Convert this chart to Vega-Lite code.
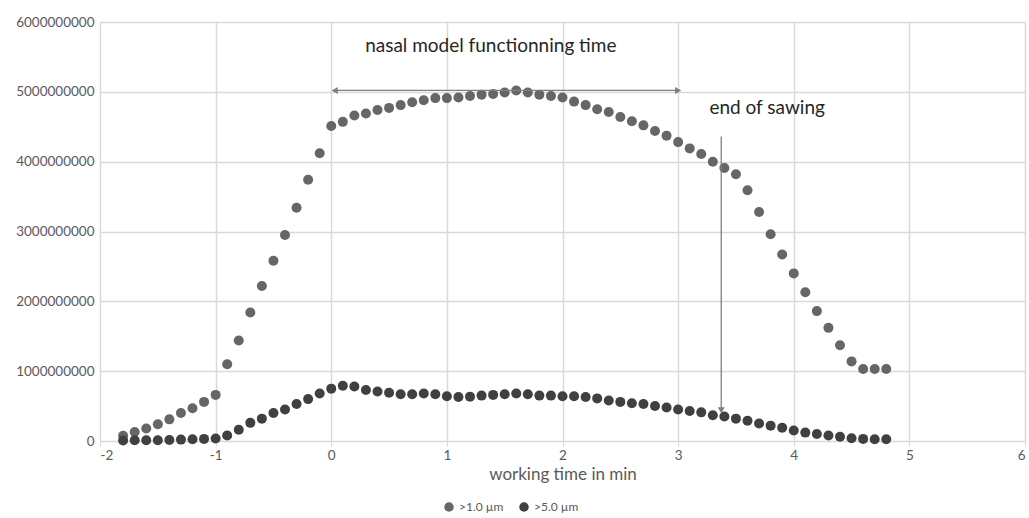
{
  "$schema": "https://vega.github.io/schema/vega-lite/v6.json",
  "autosize": "none",
  "width": 925,
  "height": 419,
  "padding": {"left": 100, "top": 22, "right": 4, "bottom": 77},
  "background": "white",
  "config": {
    "font": "Lato",
    "view": {"stroke": null},
    "axis": {"labelFont": "Lato", "titleFont": "Lato", "labelColor": "#595959", "titleColor": "#595959", "gridColor": "#d9d9d9", "gridWidth": 1.5, "domain": false, "tickColor": "#d9d9d9", "tickSize": 5}
  },
  "datasets": {
    "points": [
      {"x": -1.8, "value": 76000000, "series": ">1.0 µm"},
      {"x": -1.7, "value": 130000000, "series": ">1.0 µm"},
      {"x": -1.6, "value": 180000000, "series": ">1.0 µm"},
      {"x": -1.5, "value": 240000000, "series": ">1.0 µm"},
      {"x": -1.4, "value": 310000000, "series": ">1.0 µm"},
      {"x": -1.3, "value": 400000000, "series": ">1.0 µm"},
      {"x": -1.2, "value": 470000000, "series": ">1.0 µm"},
      {"x": -1.1, "value": 560000000, "series": ">1.0 µm"},
      {"x": -1.0, "value": 660000000, "series": ">1.0 µm"},
      {"x": -0.9, "value": 1100000000, "series": ">1.0 µm"},
      {"x": -0.8, "value": 1440000000, "series": ">1.0 µm"},
      {"x": -0.7, "value": 1840000000, "series": ">1.0 µm"},
      {"x": -0.6, "value": 2220000000, "series": ">1.0 µm"},
      {"x": -0.5, "value": 2580000000, "series": ">1.0 µm"},
      {"x": -0.4, "value": 2950000000, "series": ">1.0 µm"},
      {"x": -0.3, "value": 3340000000, "series": ">1.0 µm"},
      {"x": -0.2, "value": 3740000000, "series": ">1.0 µm"},
      {"x": -0.1, "value": 4120000000, "series": ">1.0 µm"},
      {"x": 0.0, "value": 4510000000, "series": ">1.0 µm"},
      {"x": 0.1, "value": 4570000000, "series": ">1.0 µm"},
      {"x": 0.2, "value": 4660000000, "series": ">1.0 µm"},
      {"x": 0.3, "value": 4690000000, "series": ">1.0 µm"},
      {"x": 0.4, "value": 4740000000, "series": ">1.0 µm"},
      {"x": 0.5, "value": 4770000000, "series": ">1.0 µm"},
      {"x": 0.6, "value": 4810000000, "series": ">1.0 µm"},
      {"x": 0.7, "value": 4850000000, "series": ">1.0 µm"},
      {"x": 0.8, "value": 4880000000, "series": ">1.0 µm"},
      {"x": 0.9, "value": 4910000000, "series": ">1.0 µm"},
      {"x": 1.0, "value": 4910000000, "series": ">1.0 µm"},
      {"x": 1.1, "value": 4920000000, "series": ">1.0 µm"},
      {"x": 1.2, "value": 4940000000, "series": ">1.0 µm"},
      {"x": 1.3, "value": 4960000000, "series": ">1.0 µm"},
      {"x": 1.4, "value": 4970000000, "series": ">1.0 µm"},
      {"x": 1.5, "value": 4990000000, "series": ">1.0 µm"},
      {"x": 1.6, "value": 5020000000, "series": ">1.0 µm"},
      {"x": 1.7, "value": 4990000000, "series": ">1.0 µm"},
      {"x": 1.8, "value": 4960000000, "series": ">1.0 µm"},
      {"x": 1.9, "value": 4940000000, "series": ">1.0 µm"},
      {"x": 2.0, "value": 4920000000, "series": ">1.0 µm"},
      {"x": 2.1, "value": 4860000000, "series": ">1.0 µm"},
      {"x": 2.2, "value": 4810000000, "series": ">1.0 µm"},
      {"x": 2.3, "value": 4750000000, "series": ">1.0 µm"},
      {"x": 2.4, "value": 4710000000, "series": ">1.0 µm"},
      {"x": 2.5, "value": 4640000000, "series": ">1.0 µm"},
      {"x": 2.6, "value": 4580000000, "series": ">1.0 µm"},
      {"x": 2.7, "value": 4520000000, "series": ">1.0 µm"},
      {"x": 2.8, "value": 4440000000, "series": ">1.0 µm"},
      {"x": 2.9, "value": 4370000000, "series": ">1.0 µm"},
      {"x": 3.0, "value": 4280000000, "series": ">1.0 µm"},
      {"x": 3.1, "value": 4190000000, "series": ">1.0 µm"},
      {"x": 3.2, "value": 4110000000, "series": ">1.0 µm"},
      {"x": 3.3, "value": 4000000000, "series": ">1.0 µm"},
      {"x": 3.4, "value": 3910000000, "series": ">1.0 µm"},
      {"x": 3.5, "value": 3820000000, "series": ">1.0 µm"},
      {"x": 3.6, "value": 3590000000, "series": ">1.0 µm"},
      {"x": 3.7, "value": 3280000000, "series": ">1.0 µm"},
      {"x": 3.8, "value": 2960000000, "series": ">1.0 µm"},
      {"x": 3.9, "value": 2670000000, "series": ">1.0 µm"},
      {"x": 4.0, "value": 2400000000, "series": ">1.0 µm"},
      {"x": 4.1, "value": 2130000000, "series": ">1.0 µm"},
      {"x": 4.2, "value": 1860000000, "series": ">1.0 µm"},
      {"x": 4.3, "value": 1620000000, "series": ">1.0 µm"},
      {"x": 4.4, "value": 1370000000, "series": ">1.0 µm"},
      {"x": 4.5, "value": 1140000000, "series": ">1.0 µm"},
      {"x": 4.6, "value": 1030000000, "series": ">1.0 µm"},
      {"x": 4.7, "value": 1030000000, "series": ">1.0 µm"},
      {"x": 4.8, "value": 1030000000, "series": ">1.0 µm"},
      {"x": -1.8, "value": 8000000, "series": ">5.0 µm"},
      {"x": -1.7, "value": 10000000, "series": ">5.0 µm"},
      {"x": -1.6, "value": 10000000, "series": ">5.0 µm"},
      {"x": -1.5, "value": 10000000, "series": ">5.0 µm"},
      {"x": -1.4, "value": 15000000, "series": ">5.0 µm"},
      {"x": -1.3, "value": 20000000, "series": ">5.0 µm"},
      {"x": -1.2, "value": 25000000, "series": ">5.0 µm"},
      {"x": -1.1, "value": 30000000, "series": ">5.0 µm"},
      {"x": -1.0, "value": 35000000, "series": ">5.0 µm"},
      {"x": -0.9, "value": 80000000, "series": ">5.0 µm"},
      {"x": -0.8, "value": 160000000, "series": ">5.0 µm"},
      {"x": -0.7, "value": 260000000, "series": ">5.0 µm"},
      {"x": -0.6, "value": 320000000, "series": ">5.0 µm"},
      {"x": -0.5, "value": 400000000, "series": ">5.0 µm"},
      {"x": -0.4, "value": 450000000, "series": ">5.0 µm"},
      {"x": -0.3, "value": 530000000, "series": ">5.0 µm"},
      {"x": -0.2, "value": 600000000, "series": ">5.0 µm"},
      {"x": -0.1, "value": 680000000, "series": ">5.0 µm"},
      {"x": 0.0, "value": 750000000, "series": ">5.0 µm"},
      {"x": 0.1, "value": 790000000, "series": ">5.0 µm"},
      {"x": 0.2, "value": 780000000, "series": ">5.0 µm"},
      {"x": 0.3, "value": 730000000, "series": ">5.0 µm"},
      {"x": 0.4, "value": 710000000, "series": ">5.0 µm"},
      {"x": 0.5, "value": 690000000, "series": ">5.0 µm"},
      {"x": 0.6, "value": 670000000, "series": ">5.0 µm"},
      {"x": 0.7, "value": 670000000, "series": ">5.0 µm"},
      {"x": 0.8, "value": 680000000, "series": ">5.0 µm"},
      {"x": 0.9, "value": 670000000, "series": ">5.0 µm"},
      {"x": 1.0, "value": 640000000, "series": ">5.0 µm"},
      {"x": 1.1, "value": 630000000, "series": ">5.0 µm"},
      {"x": 1.2, "value": 635000000, "series": ">5.0 µm"},
      {"x": 1.3, "value": 650000000, "series": ">5.0 µm"},
      {"x": 1.4, "value": 660000000, "series": ">5.0 µm"},
      {"x": 1.5, "value": 670000000, "series": ">5.0 µm"},
      {"x": 1.6, "value": 680000000, "series": ">5.0 µm"},
      {"x": 1.7, "value": 670000000, "series": ">5.0 µm"},
      {"x": 1.8, "value": 650000000, "series": ">5.0 µm"},
      {"x": 1.9, "value": 650000000, "series": ">5.0 µm"},
      {"x": 2.0, "value": 640000000, "series": ">5.0 µm"},
      {"x": 2.1, "value": 640000000, "series": ">5.0 µm"},
      {"x": 2.2, "value": 630000000, "series": ">5.0 µm"},
      {"x": 2.3, "value": 610000000, "series": ">5.0 µm"},
      {"x": 2.4, "value": 580000000, "series": ">5.0 µm"},
      {"x": 2.5, "value": 560000000, "series": ">5.0 µm"},
      {"x": 2.6, "value": 540000000, "series": ">5.0 µm"},
      {"x": 2.7, "value": 530000000, "series": ">5.0 µm"},
      {"x": 2.8, "value": 500000000, "series": ">5.0 µm"},
      {"x": 2.9, "value": 480000000, "series": ">5.0 µm"},
      {"x": 3.0, "value": 450000000, "series": ">5.0 µm"},
      {"x": 3.1, "value": 430000000, "series": ">5.0 µm"},
      {"x": 3.2, "value": 410000000, "series": ">5.0 µm"},
      {"x": 3.3, "value": 370000000, "series": ">5.0 µm"},
      {"x": 3.4, "value": 350000000, "series": ">5.0 µm"},
      {"x": 3.5, "value": 320000000, "series": ">5.0 µm"},
      {"x": 3.6, "value": 290000000, "series": ">5.0 µm"},
      {"x": 3.7, "value": 250000000, "series": ">5.0 µm"},
      {"x": 3.8, "value": 220000000, "series": ">5.0 µm"},
      {"x": 3.9, "value": 190000000, "series": ">5.0 µm"},
      {"x": 4.0, "value": 150000000, "series": ">5.0 µm"},
      {"x": 4.1, "value": 120000000, "series": ">5.0 µm"},
      {"x": 4.2, "value": 100000000, "series": ">5.0 µm"},
      {"x": 4.3, "value": 80000000, "series": ">5.0 µm"},
      {"x": 4.4, "value": 60000000, "series": ">5.0 µm"},
      {"x": 4.5, "value": 40000000, "series": ">5.0 µm"},
      {"x": 4.6, "value": 30000000, "series": ">5.0 µm"},
      {"x": 4.7, "value": 25000000, "series": ">5.0 µm"},
      {"x": 4.8, "value": 25000000, "series": ">5.0 µm"}
    ],
    "hspan": [{"x": 0.03, "x2": 3.0, "y": 5020000000}],
    "vspan": [{"x": 3.373, "y": 4360000000, "y2": 440000000}],
    "labels": [
      {"label": "nasal model functionning time", "x": 1.38, "y": 5660000000},
      {"label": "end of sawing", "x": 3.77, "y": 4770000000}
    ]
  },
  "layer": [
    {
      "data": {"name": "points"},
      "mark": {"type": "point", "filled": true, "opacity": 1, "size": 100},
      "encoding": {
        "x": {"field": "x", "type": "quantitative", "scale": {"domain": [-2, 6], "nice": false, "zero": false},
              "axis": {"values": [-2, -1, 0, 1, 2, 3, 4, 5, 6], "format": "d", "labelExpr": "replace(datum.label, '\u2212', '-')", "title": "working time in min", "labelFontSize": 13.5, "titleFontSize": 17, "titleFontWeight": "normal", "labelPadding": 2, "titlePadding": 5}},
        "y": {"field": "value", "type": "quantitative", "scale": {"domain": [0, 6000000000], "nice": false},
              "axis": {"values": [0, 1000000000, 2000000000, 3000000000, 4000000000, 5000000000, 6000000000], "format": "d", "title": null, "labelFontSize": 13.5, "ticks": false, "labelPadding": 6}},
        "color": {"field": "series", "type": "nominal", "scale": {"domain": [">1.0 µm", ">5.0 µm"], "range": ["#666666", "#404040"]},
                  "legend": {"title": null, "orient": "none", "legendX": 343, "legendY": 479, "direction": "horizontal", "symbolType": "circle", "symbolSize": 90, "labelFontSize": 12, "labelColor": "#595959", "columnPadding": 14}}
      }
    },
    {
      "data": {"name": "hspan"},
      "mark": {"type": "rule", "color": "#7f7f7f", "strokeWidth": 1.3},
      "encoding": {"x": {"field": "x", "type": "quantitative"}, "x2": {"field": "x2"}, "y": {"field": "y", "type": "quantitative"}}
    },
    {
      "data": {"name": "hspan"},
      "mark": {"type": "point", "shape": "triangle-left", "filled": true, "color": "#7f7f7f", "opacity": 1, "size": 50},
      "encoding": {"x": {"field": "x", "type": "quantitative"}, "y": {"field": "y", "type": "quantitative"}}
    },
    {
      "data": {"name": "hspan"},
      "mark": {"type": "point", "shape": "triangle-right", "filled": true, "color": "#7f7f7f", "opacity": 1, "size": 50},
      "encoding": {"x": {"field": "x2", "type": "quantitative"}, "y": {"field": "y", "type": "quantitative"}}
    },
    {
      "data": {"name": "vspan"},
      "mark": {"type": "rule", "color": "#7f7f7f", "strokeWidth": 1.3},
      "encoding": {"x": {"field": "x", "type": "quantitative"}, "y": {"field": "y", "type": "quantitative"}, "y2": {"field": "y2"}}
    },
    {
      "data": {"name": "vspan"},
      "mark": {"type": "point", "shape": "triangle-down", "filled": true, "color": "#7f7f7f", "opacity": 1, "size": 50},
      "encoding": {"x": {"field": "x", "type": "quantitative"}, "y": {"field": "y2", "type": "quantitative"}}
    },
    {
      "data": {"name": "labels"},
      "mark": {"type": "text", "font": "Lato", "fontSize": 19, "color": "#262626", "align": "center", "baseline": "middle"},
      "encoding": {"x": {"field": "x", "type": "quantitative"}, "y": {"field": "y", "type": "quantitative"}, "text": {"field": "label"}}
    }
  ]
}
